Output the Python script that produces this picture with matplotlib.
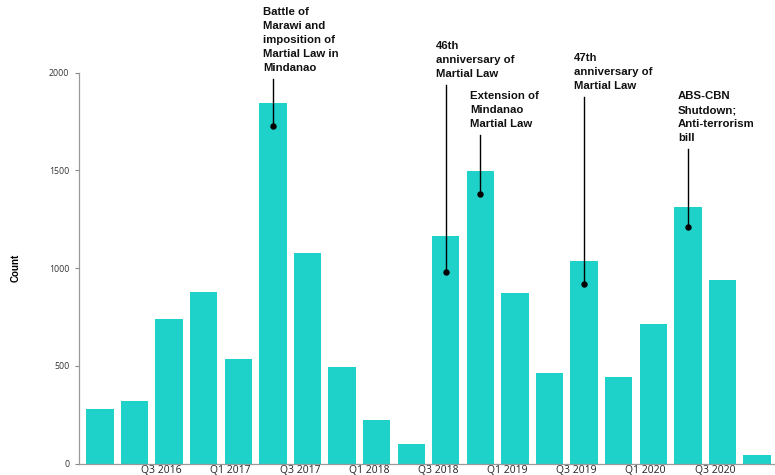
import matplotlib
matplotlib.use("Agg")
import matplotlib.pyplot as plt
import numpy as np

# Quarterly counts, Q1 2016 .. Q4 2020
quarters = ["Q1 2016", "Q2 2016", "Q3 2016", "Q4 2016",
            "Q1 2017", "Q2 2017", "Q3 2017", "Q4 2017",
            "Q1 2018", "Q2 2018", "Q3 2018", "Q4 2018",
            "Q1 2019", "Q2 2019", "Q3 2019", "Q4 2019",
            "Q1 2020", "Q2 2020", "Q3 2020", "Q4 2020"]
counts = [279, 318, 741, 876, 535, 1843, 1079, 494, 221, 101,
          1166, 1498, 871, 463, 1038, 443, 712, 1311, 941, 43]

# Event callouts: quarter, label, dot value, top of leader line
events = [
    ("Q2 2017", "Battle of\nMarawi and\nimposition of\nMartial Law in\nMindanao", 1729, 1968),
    ("Q3 2018", "46th\nanniversary of\nMartial Law", 982, 1937),
    ("Q4 2018", "Extension of\nMindanao\nMartial Law", 1378, 1681),
    ("Q3 2019", "47th\nanniversary of\nMartial Law", 920, 1874),
    ("Q2 2020", "ABS-CBN\nShutdown;\nAnti-terrorism\nbill", 1210, 1609),
]

tick_labels = ["Q3 2016", "Q1 2017", "Q3 2017", "Q1 2018", "Q3 2018",
               "Q1 2019", "Q3 2019", "Q1 2020", "Q3 2020"]

plt.rcParams["font.family"] = ["Open Sans", "DejaVu Sans"]

fig = plt.figure(figsize=(7.75, 4.75), dpi=100)
ax = fig.add_axes([79 / 775, 11.5 / 475, 1 - 79 / 775, (463.5 - 72.7) / 475])

x = np.arange(len(quarters))
ax.bar(x, counts, width=0.79, color="#1ED2C9", edgecolor="none", zorder=2)

ax.set_xlim(-0.607, 19.52)
ax.set_ylim(0, 2000)

pos = {q: i for i, q in enumerate(quarters)}
ax.set_xticks([pos[q] - 0.22 for q in tick_labels])
ax.set_xticklabels(tick_labels, fontsize=7.5, color="#222222")
ax.tick_params(axis="x", length=0, pad=1)

ax.set_yticks([0, 500, 1000, 1500, 2000])
ax.tick_params(axis="y", length=3, width=0.8, color="#888888",
               labelsize=6.3, labelcolor="#333333", pad=4)

for s in ["top", "right"]:
    ax.spines[s].set_visible(False)
for s in ["left", "bottom"]:
    ax.spines[s].set_color("#999999")
    ax.spines[s].set_linewidth(0.9)

ax.set_ylabel("Count", fontsize=7, fontweight="bold", labelpad=20,
              family=["Liberation Sans", "DejaVu Sans"])

for q, label, dot, top in events:
    i = pos[q]
    ax.plot([i, i], [dot, top], color="black", lw=1.0, zorder=3, clip_on=False)
    ax.plot(i, dot, "o", color="black", ms=3.6, zorder=4, clip_on=False)
    ax.annotate(label, xy=(i, top), xytext=(-10, 6), textcoords="offset pixels",
                ha="left", va="bottom", fontsize=8.2, fontweight="bold",
                family=["Liberation Sans", "DejaVu Sans"], linespacing=1.5,
                color="#111111", annotation_clip=False)

fig.savefig("out.png", dpi=100)
